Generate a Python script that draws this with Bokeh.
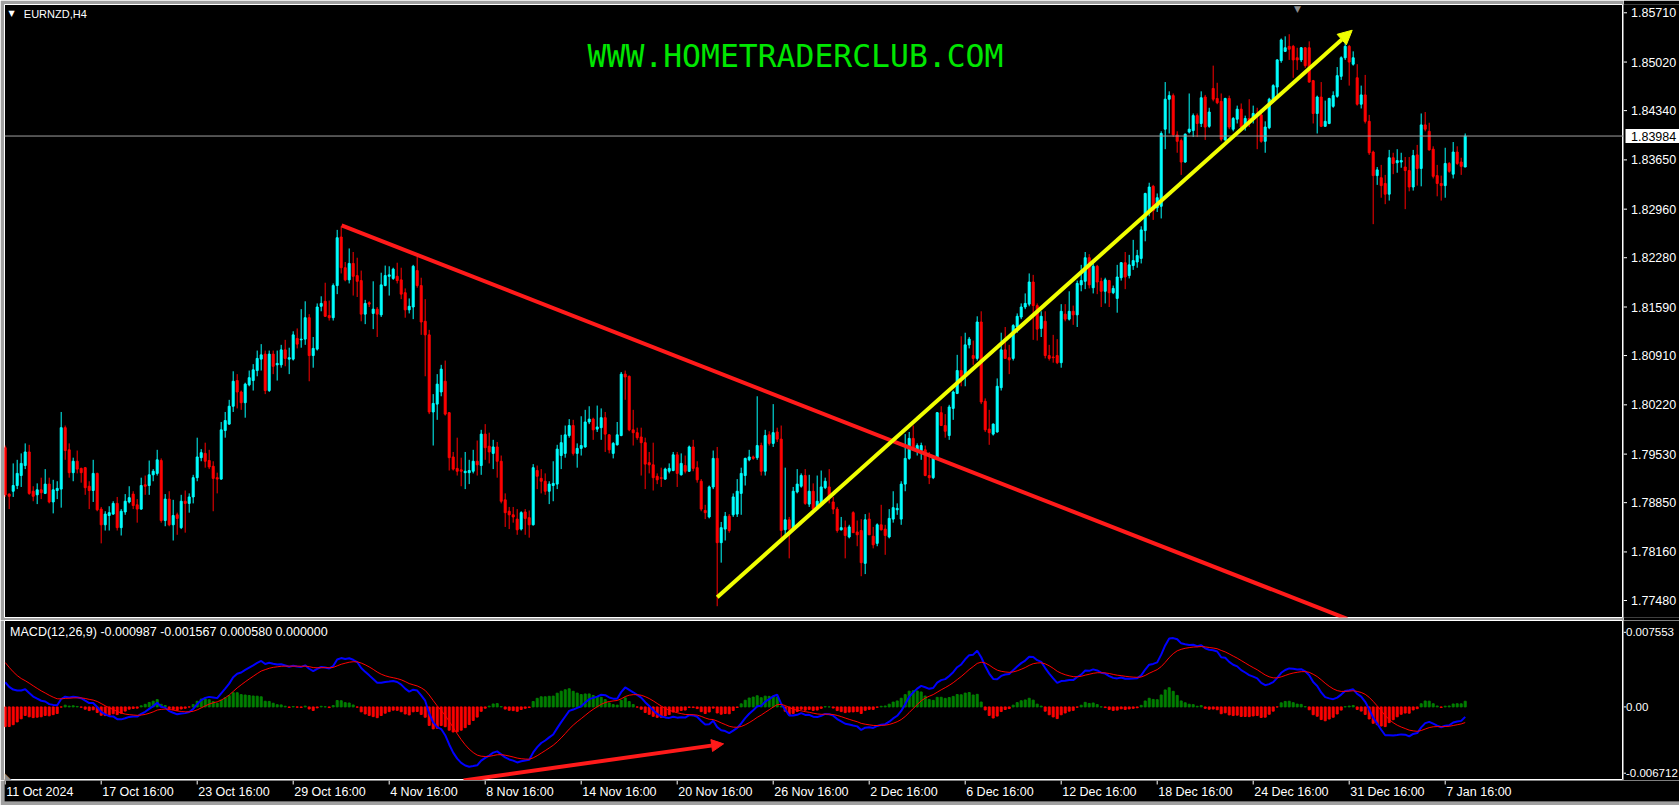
from bokeh.plotting import figure
from bokeh.layouts import column, row
from bokeh.models import Range1d, Label, Span, Arrow, NormalHead, ColumnDataSource
from bokeh.embed import file_html
from bokeh.resources import INLINE
from bokeh.core.properties import value

# ---------------- data (EURNZD H4, bar 0 = 11 Oct 2024 16:00) ----------------
opens = [
    1.7962, 1.7897, 1.7901, 1.7909, 1.7923, 1.7937, 1.7956, 1.7901, 1.7896, 1.7903,
    1.7898, 1.7911, 1.7886, 1.7902, 1.7904, 1.7990, 1.7959, 1.7927, 1.7943, 1.7933,
    1.7934, 1.7908, 1.7902, 1.7926, 1.7876, 1.7854, 1.7867, 1.7869, 1.7884, 1.7850,
    1.7872, 1.7886, 1.7897, 1.7882, 1.7876, 1.7910, 1.7909, 1.7924, 1.7926, 1.7944,
    1.7860, 1.7890, 1.7854, 1.7868, 1.7850, 1.7887, 1.7884, 1.7893, 1.7920, 1.7948,
    1.7954, 1.7944, 1.7936, 1.7920, 1.7918, 1.7986, 1.7995, 1.8020, 1.8056, 1.8040,
    1.8025, 1.8050, 1.8056, 1.8070, 1.8086, 1.8093, 1.8042, 1.8093, 1.8078, 1.8078,
    1.8099, 1.8086, 1.8086, 1.8115, 1.8113, 1.8114, 1.8144, 1.8091, 1.8100, 1.8160,
    1.8167, 1.8147, 1.8144, 1.8189, 1.8257, 1.8214, 1.8197, 1.8220, 1.8203, 1.8196,
    1.8149, 1.8165, 1.8150, 1.8156, 1.8148, 1.8189, 1.8202, 1.8199, 1.8202, 1.8197,
    1.8179, 1.8155, 1.8159, 1.8210, 1.8189, 1.8139, 1.8120, 1.8012, 1.8023, 1.8040,
    1.8055, 1.8011, 1.7949, 1.7933, 1.7931, 1.7927, 1.7927, 1.7929, 1.7943, 1.7937,
    1.7981, 1.7964, 1.7954, 1.7963, 1.7943, 1.7889, 1.7873, 1.7868, 1.7862, 1.7848,
    1.7872, 1.7864, 1.7854, 1.7930, 1.7919, 1.7915, 1.7901, 1.7909, 1.7911, 1.7951,
    1.7954, 1.7979, 1.7993, 1.7954, 1.7961, 1.7963, 1.7998, 1.8002, 1.7988, 1.7990,
    1.8004, 1.7980, 1.7954, 1.7966, 1.7979, 1.8065, 1.8062, 1.7987, 1.7983, 1.7977,
    1.7969, 1.7941, 1.7938, 1.7922, 1.7920, 1.7918, 1.7929, 1.7930, 1.7952, 1.7924,
    1.7937, 1.7929, 1.7963, 1.7934, 1.7915, 1.7874, 1.7865, 1.7907, 1.7947, 1.7829,
    1.7848, 1.7866, 1.7868, 1.7869, 1.7898, 1.7923, 1.7945, 1.7949, 1.7948, 1.7965,
    1.7929, 1.7980, 1.7968, 1.7984, 1.7974, 1.7847, 1.7861, 1.7848, 1.7900, 1.7908,
    1.7923, 1.7883, 1.7901, 1.7879, 1.7884, 1.7906, 1.7907, 1.7886, 1.7876, 1.7847,
    1.7850, 1.7837, 1.7871, 1.7844, 1.7846, 1.7800, 1.7862, 1.7838, 1.7828, 1.7854,
    1.7848, 1.7837, 1.7862, 1.7875, 1.7862, 1.7911, 1.7947, 1.7975, 1.7959, 1.7958,
    1.7959, 1.7923, 1.7920, 1.7948, 1.8011, 1.7993, 1.7979, 1.8017, 1.8038, 1.8070,
    1.8062, 1.8106, 1.8091, 1.8087, 1.8138, 1.8027, 1.7988, 1.7981, 1.7984, 1.8046,
    1.8099, 1.8088, 1.8087, 1.8131, 1.8145, 1.8159, 1.8163, 1.8194, 1.8161, 1.8129,
    1.8139, 1.8091, 1.8089, 1.8091, 1.8081, 1.8149, 1.8142, 1.8153, 1.8148, 1.8190,
    1.8195, 1.8228, 1.8186, 1.8216, 1.8195, 1.8181, 1.8196, 1.8179, 1.8171, 1.8200,
    1.8221, 1.8203, 1.8217, 1.8222, 1.8227, 1.8266, 1.8294, 1.8328, 1.8298, 1.8300,
    1.8408, 1.8450, 1.8455, 1.8400, 1.8392, 1.8362, 1.8404, 1.8406, 1.8427, 1.8416,
    1.8453, 1.8412, 1.8465, 1.8451, 1.8447, 1.8393, 1.8451, 1.8408, 1.8422, 1.8436,
    1.8411, 1.8423, 1.8422, 1.8430, 1.8428, 1.8391, 1.8410, 1.8447, 1.8467, 1.8504,
    1.8517, 1.8524, 1.8524, 1.8508, 1.8505, 1.8522, 1.8522, 1.8476, 1.8430, 1.8453,
    1.8412, 1.8416, 1.8440, 1.8454, 1.8482, 1.8508, 1.8524, 1.8499, 1.8480, 1.8443,
    1.8456, 1.8419, 1.8376, 1.8343, 1.8340, 1.8332, 1.8317, 1.8368, 1.8361, 1.8362,
    1.8355, 1.8350, 1.8327, 1.8372, 1.8353, 1.8414, 1.8405, 1.8380, 1.8343, 1.8332,
    1.8329, 1.8360, 1.8345, 1.8376, 1.8362, 1.8355,
]
highs = [
    1.7965, 1.7898, 1.7940, 1.7945, 1.7954, 1.7968, 1.7966, 1.7908, 1.7912, 1.7920,
    1.7932, 1.7920, 1.7917, 1.7915, 1.8012, 1.7993, 1.7968, 1.7948, 1.7958, 1.7934,
    1.7935, 1.7915, 1.7945, 1.7927, 1.7879, 1.7873, 1.7880, 1.7887, 1.7893, 1.7876,
    1.7897, 1.7908, 1.7901, 1.7890, 1.7920, 1.7923, 1.7944, 1.7932, 1.7959, 1.7947,
    1.7897, 1.7901, 1.7889, 1.7871, 1.7896, 1.7902, 1.7898, 1.7924, 1.7976, 1.7960,
    1.7969, 1.7959, 1.7943, 1.7927, 1.7998, 1.8012, 1.8029, 1.8069, 1.8065, 1.8042,
    1.8053, 1.8070, 1.8079, 1.8098, 1.8107, 1.8098, 1.8098, 1.8098, 1.8098, 1.8106,
    1.8113, 1.8102, 1.8125, 1.8129, 1.8156, 1.8167, 1.8149, 1.8117, 1.8164, 1.8174,
    1.8193, 1.8168, 1.8192, 1.8267, 1.8272, 1.8222, 1.8241, 1.8236, 1.8228, 1.8210,
    1.8169, 1.8167, 1.8195, 1.8159, 1.8207, 1.8217, 1.8216, 1.8214, 1.8221, 1.8214,
    1.8185, 1.8171, 1.8218, 1.8229, 1.8200, 1.8170, 1.8127, 1.8037, 1.8065, 1.8078,
    1.8084, 1.8012, 1.7956, 1.7976, 1.7948, 1.7956, 1.7945, 1.7959, 1.7972, 1.7987,
    1.7995, 1.7983, 1.7973, 1.7970, 1.7951, 1.7898, 1.7879, 1.7879, 1.7876, 1.7873,
    1.7876, 1.7874, 1.7939, 1.7937, 1.7932, 1.7926, 1.7915, 1.7943, 1.7966, 1.7980,
    1.7993, 1.8002, 1.8001, 1.7968, 1.8006, 1.8015, 1.8020, 1.8004, 1.8021, 1.8017,
    1.8012, 1.7981, 1.7970, 1.7998, 1.8068, 1.8070, 1.8063, 1.8015, 1.7990, 1.7990,
    1.7976, 1.7956, 1.7969, 1.7926, 1.7934, 1.7934, 1.7940, 1.7956, 1.7956, 1.7954,
    1.7951, 1.7965, 1.7973, 1.7943, 1.7918, 1.7882, 1.7909, 1.7958, 1.7963, 1.7858,
    1.7872, 1.7869, 1.7898, 1.7918, 1.7934, 1.7948, 1.7959, 1.7951, 1.8034, 1.7969,
    1.7987, 1.7985, 1.8023, 1.7990, 1.7993, 1.7934, 1.7865, 1.7907, 1.7932, 1.7926,
    1.7932, 1.7924, 1.7912, 1.7923, 1.7930, 1.7920, 1.7932, 1.7893, 1.7879, 1.7865,
    1.7860, 1.7854, 1.7873, 1.7860, 1.7862, 1.7869, 1.7871, 1.7851, 1.7856, 1.7882,
    1.7854, 1.7876, 1.7901, 1.7884, 1.7915, 1.7981, 1.7984, 1.7993, 1.7968, 1.7969,
    1.7965, 1.7956, 1.7951, 1.8012, 1.8020, 1.8009, 1.8022, 1.8042, 1.8092, 1.8118,
    1.8123, 1.8117, 1.8112, 1.8146, 1.8153, 1.8031, 1.8015, 1.7996, 1.8059, 1.8123,
    1.8131, 1.8106, 1.8135, 1.8150, 1.8164, 1.8178, 1.8206, 1.8204, 1.8164, 1.8153,
    1.8153, 1.8106, 1.8120, 1.8114, 1.8163, 1.8163, 1.8181, 1.8161, 1.8196, 1.8218,
    1.8236, 1.8233, 1.8220, 1.8218, 1.8200, 1.8200, 1.8197, 1.8189, 1.8218, 1.8222,
    1.8236, 1.8232, 1.8253, 1.8239, 1.8272, 1.8319, 1.8333, 1.8330, 1.8318, 1.8405,
    1.8474, 1.8461, 1.8458, 1.8405, 1.8395, 1.8402, 1.8458, 1.8430, 1.8430, 1.8461,
    1.8456, 1.8438, 1.8497, 1.8473, 1.8458, 1.8452, 1.8455, 1.8425, 1.8441, 1.8444,
    1.8427, 1.8450, 1.8441, 1.8438, 1.8436, 1.8419, 1.8452, 1.8471, 1.8506, 1.8535,
    1.8538, 1.8541, 1.8526, 1.8522, 1.8523, 1.8523, 1.8531, 1.8477, 1.8455, 1.8474,
    1.8448, 1.8452, 1.8461, 1.8495, 1.8510, 1.8539, 1.8526, 1.8517, 1.8499, 1.8469,
    1.8484, 1.8428, 1.8378, 1.8355, 1.8358, 1.8344, 1.8379, 1.8375, 1.8380, 1.8375,
    1.8369, 1.8369, 1.8379, 1.8386, 1.8430, 1.8432, 1.8417, 1.8384, 1.8358, 1.8343,
    1.8382, 1.8362, 1.8390, 1.8384, 1.8368, 1.8402,
]
lows = [
    1.7893, 1.7876, 1.7893, 1.7904, 1.7907, 1.7932, 1.7896, 1.7887, 1.7883, 1.7890,
    1.7897, 1.7884, 1.7870, 1.7890, 1.7878, 1.7945, 1.7920, 1.7915, 1.7926, 1.7913,
    1.7896, 1.7876, 1.7886, 1.7873, 1.7828, 1.7846, 1.7846, 1.7868, 1.7846, 1.7839,
    1.7868, 1.7884, 1.7876, 1.7857, 1.7875, 1.7896, 1.7896, 1.7915, 1.7923, 1.7857,
    1.7852, 1.7852, 1.7832, 1.7840, 1.7848, 1.7843, 1.7871, 1.7884, 1.7915, 1.7943,
    1.7934, 1.7932, 1.7873, 1.7898, 1.7917, 1.7976, 1.7994, 1.8012, 1.8017, 1.8015,
    1.8004, 1.8048, 1.8042, 1.8062, 1.8070, 1.8037, 1.8040, 1.8065, 1.8056, 1.8074,
    1.8076, 1.8065, 1.8084, 1.8101, 1.8102, 1.8106, 1.8055, 1.8074, 1.8098, 1.8153,
    1.8145, 1.8140, 1.8140, 1.8177, 1.8206, 1.8195, 1.8192, 1.8175, 1.8173, 1.8139,
    1.8135, 1.8159, 1.8128, 1.8117, 1.8145, 1.8188, 1.8175, 1.8197, 1.8192, 1.8170,
    1.8144, 1.8150, 1.8142, 1.8186, 1.8120, 1.8062, 1.8009, 1.7965, 1.8001, 1.8034,
    1.8007, 1.7930, 1.7930, 1.7923, 1.7908, 1.7904, 1.7911, 1.7926, 1.7923, 1.7924,
    1.7945, 1.7940, 1.7932, 1.7920, 1.7884, 1.7851, 1.7848, 1.7857, 1.7840, 1.7846,
    1.7840, 1.7836, 1.7853, 1.7904, 1.7898, 1.7896, 1.7883, 1.7887, 1.7904, 1.7932,
    1.7948, 1.7976, 1.7951, 1.7934, 1.7951, 1.7962, 1.7995, 1.7973, 1.7984, 1.7973,
    1.7956, 1.7954, 1.7947, 1.7965, 1.7978, 1.8029, 1.7985, 1.7965, 1.7973, 1.7923,
    1.7904, 1.7926, 1.7902, 1.7911, 1.7907, 1.7917, 1.7926, 1.7929, 1.7907, 1.7923,
    1.7926, 1.7928, 1.7929, 1.7913, 1.7873, 1.7862, 1.7863, 1.7904, 1.7740, 1.7801,
    1.7832, 1.7843, 1.7865, 1.7865, 1.7868, 1.7909, 1.7943, 1.7945, 1.7945, 1.7923,
    1.7923, 1.7965, 1.7963, 1.7970, 1.7835, 1.7840, 1.7807, 1.7846, 1.7898, 1.7906,
    1.7882, 1.7879, 1.7873, 1.7876, 1.7882, 1.7904, 1.7884, 1.7869, 1.7843, 1.7846,
    1.7807, 1.7835, 1.7843, 1.7824, 1.7782, 1.7785, 1.7840, 1.7821, 1.7824, 1.7846,
    1.7812, 1.7835, 1.7857, 1.7868, 1.7854, 1.7901, 1.7945, 1.7958, 1.7951, 1.7945,
    1.7922, 1.7911, 1.7918, 1.7947, 1.7993, 1.7976, 1.7973, 1.8001, 1.8037, 1.8048,
    1.8048, 1.8101, 1.8078, 1.8084, 1.8023, 1.7984, 1.7966, 1.7979, 1.7983, 1.8042,
    1.8087, 1.8065, 1.8084, 1.8123, 1.8142, 1.8156, 1.8160, 1.8113, 1.8112, 1.8117,
    1.8087, 1.8084, 1.8081, 1.8079, 1.8074, 1.8139, 1.8140, 1.8134, 1.8131, 1.8181,
    1.8184, 1.8185, 1.8178, 1.8177, 1.8159, 1.8164, 1.8159, 1.8177, 1.8151, 1.8196,
    1.8184, 1.8199, 1.8211, 1.8214, 1.8220, 1.8251, 1.8286, 1.8281, 1.8292, 1.8283,
    1.8380, 1.8402, 1.8397, 1.8375, 1.8344, 1.8361, 1.8402, 1.8397, 1.8397, 1.8411,
    1.8393, 1.8410, 1.8447, 1.8443, 1.8391, 1.8391, 1.8408, 1.8405, 1.8416, 1.8408,
    1.8406, 1.8411, 1.8416, 1.8380, 1.8389, 1.8375, 1.8408, 1.8445, 1.8455, 1.8501,
    1.8516, 1.8505, 1.8480, 1.8491, 1.8502, 1.8494, 1.8473, 1.8416, 1.8402, 1.8411,
    1.8412, 1.8415, 1.8438, 1.8452, 1.8477, 1.8505, 1.8469, 1.8497, 1.8441, 1.8437,
    1.8416, 1.8372, 1.8275, 1.8330, 1.8312, 1.8303, 1.8308, 1.8345, 1.8347, 1.8354,
    1.8296, 1.8321, 1.8322, 1.8329, 1.8328, 1.8405, 1.8378, 1.8339, 1.8314, 1.8308,
    1.8312, 1.8347, 1.8339, 1.8358, 1.8344, 1.8355,
]
closes = [
    1.7896, 1.7894, 1.7909, 1.7926, 1.7940, 1.7956, 1.7898, 1.7894, 1.7903, 1.7899,
    1.7911, 1.7886, 1.7903, 1.7905, 1.7990, 1.7958, 1.7927, 1.7943, 1.7932, 1.7927,
    1.7906, 1.7902, 1.7926, 1.7875, 1.7854, 1.7869, 1.7871, 1.7884, 1.7850, 1.7873,
    1.7887, 1.7892, 1.7881, 1.7876, 1.7909, 1.7908, 1.7924, 1.7929, 1.7945, 1.7860,
    1.7890, 1.7854, 1.7867, 1.7863, 1.7887, 1.7884, 1.7893, 1.7920, 1.7949, 1.7955,
    1.7943, 1.7935, 1.7919, 1.7918, 1.7987, 1.8000, 1.8020, 1.8055, 1.8040, 1.8025,
    1.8051, 1.8060, 1.8071, 1.8087, 1.8092, 1.8042, 1.8093, 1.8076, 1.8080, 1.8099,
    1.8087, 1.8088, 1.8120, 1.8107, 1.8114, 1.8144, 1.8091, 1.8101, 1.8159, 1.8164,
    1.8146, 1.8144, 1.8189, 1.8256, 1.8214, 1.8197, 1.8220, 1.8202, 1.8195, 1.8149,
    1.8164, 1.8163, 1.8156, 1.8149, 1.8190, 1.8203, 1.8204, 1.8212, 1.8196, 1.8177,
    1.8155, 1.8160, 1.8216, 1.8189, 1.8138, 1.8120, 1.8012, 1.8024, 1.8051, 1.8072,
    1.8009, 1.7948, 1.7932, 1.7929, 1.7929, 1.7929, 1.7930, 1.7943, 1.7938, 1.7981,
    1.7962, 1.7956, 1.7963, 1.7943, 1.7887, 1.7871, 1.7868, 1.7865, 1.7847, 1.7871,
    1.7863, 1.7854, 1.7934, 1.7922, 1.7915, 1.7901, 1.7911, 1.7912, 1.7960, 1.7969,
    1.7980, 1.7993, 1.7954, 1.7961, 1.7965, 1.7998, 1.8002, 1.7987, 1.7991, 1.8004,
    1.7981, 1.7959, 1.7968, 1.7980, 1.8065, 1.8061, 1.7987, 1.7983, 1.7976, 1.7969,
    1.7939, 1.7938, 1.7920, 1.7917, 1.7919, 1.7932, 1.7933, 1.7952, 1.7926, 1.7940,
    1.7929, 1.7963, 1.7933, 1.7917, 1.7876, 1.7871, 1.7907, 1.7947, 1.7829, 1.7850,
    1.7866, 1.7846, 1.7893, 1.7901, 1.7926, 1.7947, 1.7949, 1.7947, 1.7965, 1.7929,
    1.7979, 1.7968, 1.7983, 1.7974, 1.7846, 1.7861, 1.7848, 1.7901, 1.7911, 1.7923,
    1.7884, 1.7901, 1.7876, 1.7887, 1.7907, 1.7915, 1.7893, 1.7876, 1.7846, 1.7850,
    1.7839, 1.7851, 1.7843, 1.7840, 1.7801, 1.7861, 1.7840, 1.7826, 1.7854, 1.7847,
    1.7839, 1.7863, 1.7878, 1.7877, 1.7911, 1.7947, 1.7975, 1.7959, 1.7965, 1.7965,
    1.7923, 1.7920, 1.7948, 1.8011, 1.7993, 1.7985, 1.8019, 1.8040, 1.8070, 1.8062,
    1.8106, 1.8114, 1.8087, 1.8138, 1.8026, 1.7987, 1.7983, 1.7995, 1.8048, 1.8099,
    1.8087, 1.8085, 1.8133, 1.8146, 1.8159, 1.8164, 1.8194, 1.8161, 1.8128, 1.8146,
    1.8091, 1.8087, 1.8088, 1.8081, 1.8153, 1.8142, 1.8153, 1.8148, 1.8192, 1.8196,
    1.8228, 1.8190, 1.8216, 1.8194, 1.8181, 1.8197, 1.8179, 1.8185, 1.8201, 1.8221,
    1.8201, 1.8218, 1.8224, 1.8231, 1.8267, 1.8318, 1.8327, 1.8294, 1.8312, 1.8402,
    1.8450, 1.8455, 1.8400, 1.8391, 1.8362, 1.8401, 1.8408, 1.8427, 1.8416, 1.8452,
    1.8411, 1.8432, 1.8450, 1.8445, 1.8394, 1.8451, 1.8411, 1.8423, 1.8436, 1.8411,
    1.8423, 1.8419, 1.8430, 1.8427, 1.8391, 1.8411, 1.8450, 1.8469, 1.8505, 1.8533,
    1.8522, 1.8520, 1.8505, 1.8505, 1.8522, 1.8497, 1.8474, 1.8430, 1.8453, 1.8412,
    1.8419, 1.8451, 1.8455, 1.8483, 1.8508, 1.8524, 1.8502, 1.8508, 1.8443, 1.8456,
    1.8419, 1.8375, 1.8343, 1.8351, 1.8329, 1.8317, 1.8368, 1.8360, 1.8364, 1.8364,
    1.8350, 1.8327, 1.8371, 1.8353, 1.8414, 1.8408, 1.8379, 1.8342, 1.8332, 1.8329,
    1.8360, 1.8349, 1.8376, 1.8360, 1.8356, 1.83984,
]

time_ticks = [0, 24, 48, 72, 96, 120, 144, 168, 192, 216, 240, 264, 288, 312, 336, 360]
time_labels = ["11 Oct 2024", "17 Oct 16:00", "23 Oct 16:00", "29 Oct 16:00", "4 Nov 16:00",
               "8 Nov 16:00", "14 Nov 16:00", "20 Nov 16:00", "26 Nov 16:00", "2 Dec 16:00",
               "6 Dec 16:00", "12 Dec 16:00", "18 Dec 16:00", "24 Dec 16:00", "31 Dec 16:00",
               "7 Jan 16:00"]
price_ticks = [1.85710, 1.85020, 1.84340, 1.83650, 1.82960, 1.82280, 1.81590,
               1.80910, 1.80220, 1.79530, 1.78850, 1.78160, 1.77480]
macd_ticks = [0.007553, 0.0, -0.006712]

symbol_title = "EURNZD,H4"
macd_header = "MACD(12,26,9) -0.000987 -0.001567 0.000580 0.000000"
watermark = "WWW.HOMETRADERCLUB.COM"

# drawn objects (bar index, price / MACD value)
red_trend_x = [84.1, 335.5]
red_trend_y = [1.82734, 1.77222]
yellow_arrow_x = [178.0, 336.75]
yellow_arrow_y = [1.77525, 1.85466]
macd_arrow_x = [114.6, 179.6]
macd_arrow_y = [-0.00745, -0.00374]

# MACD(12,26,9) state at the first visible bar
ema_fast_seed, ema_slow_seed, signal_seed = 1.7930, 1.7905, 0.0045

# ---------------- indicator ----------------
def ema(series, period, seed):
    k = 2.0 / (period + 1)
    out = [seed]
    for v in series[1:]:
        out.append(out[-1] + k * (v - out[-1]))
    return out

e12 = ema(closes, 12, ema_fast_seed)
e26 = ema(closes, 26, ema_slow_seed)
macd = [a - b for a, b in zip(e12, e26)]
signal = ema(macd, 9, signal_seed)
hist = [m - s for m, s in zip(macd, signal)]

# ---------------- layout constants ----------------
FW = 1619           # chart frame width, 4 px per bar
RBW = 56            # price-scale column
LB = 4              # window border
H_MAIN = 613
H_MACD = 160
H_TIME = 21
GRAY = "#a0a0a0"
FONT = "Liberation Sans"
FS = "12.5px"

idx = list(range(len(closes)))
x_range = Range1d(-0.175, -0.175 + FW / 4.0)
price_range = Range1d(1.77242, 1.85826)
macd_range = Range1d(-0.00745, 0.00875)


def chart_panel(height, y_range, top, bottom):
    p = figure(frame_width=FW, frame_height=height, x_range=x_range, y_range=y_range,
               output_backend="svg", toolbar_location=None,
               x_axis_location=None, y_axis_location=None,
               min_border_left=LB, min_border_right=0,
               min_border_top=top, min_border_bottom=bottom,
               background_fill_color="black", border_fill_color=GRAY,
               outline_line_color="white")
    p.grid.visible = False
    return p


def scale_panel(height, y_range, top, bottom):
    a = figure(frame_width=RBW, frame_height=height, x_range=Range1d(0, RBW), y_range=y_range,
               output_backend="svg", toolbar_location=None,
               x_axis_location=None, y_axis_location=None,
               min_border_left=0, min_border_right=0,
               min_border_top=top, min_border_bottom=bottom,
               background_fill_color="black", border_fill_color="black",
               outline_line_color=None)
    a.grid.visible = False
    return a


# ---------------- main price panel ----------------
p1 = chart_panel(H_MAIN, price_range, LB, 3)

colors = ["#00ffff" if c >= o else "#ff0000" for o, c in zip(opens, closes)]
src = ColumnDataSource(dict(x=idx, o=opens, h=highs, l=lows, c=closes, col=colors))
p1.segment(x0="x", y0="l", x1="x", y1="h", line_color="col", line_width=1, source=src)
p1.vbar(x="x", width=0.5, top="o", bottom="c", fill_color="col", line_color="col",
        line_width=1, source=src)

p1.add_layout(Span(location=closes[-1], dimension="width", line_color="#a0a0a0", line_width=1))

p1.line(red_trend_x, red_trend_y, line_color="#ff1a1a", line_width=4)
p1.add_layout(Arrow(x_start=yellow_arrow_x[0], y_start=yellow_arrow_y[0],
                    x_end=yellow_arrow_x[1], y_end=yellow_arrow_y[1],
                    line_color="#f0ff00", line_width=4,
                    end=NormalHead(size=14, fill_color="#f0ff00", line_color="#f0ff00")))

p1.add_layout(Label(x=4, y=H_MAIN - 8.5, x_units="screen", y_units="screen", text="\u25BC",
                    text_color="white", text_font="DejaVu Sans", text_font_size="8px",
                    text_baseline="middle"))
p1.add_layout(Label(x=19.3, y=H_MAIN - 9.3, x_units="screen", y_units="screen",
                    text=symbol_title, text_color="white", text_font=FONT,
                    text_font_size="11px", text_baseline="middle"))
p1.add_layout(Label(x=791, y=H_MAIN - 51.8, x_units="screen", y_units="screen", text=watermark,
                    text_color="#00e600", text_font="DejaVu Sans Mono", text_font_size="31.4px",
                    text_align="center", text_baseline="middle"))
p1.add_layout(Label(x=1293, y=H_MAIN + 1, x_units="screen", y_units="screen", text="\u25BC",
                    text_color="#8c8c8c", text_font="DejaVu Sans", text_font_size="9px",
                    text_align="center", text_baseline="top"))

# price scale column
a1 = scale_panel(H_MAIN, price_range, LB, 3)
a1.segment(x0=[0] * len(price_ticks), y0=price_ticks, x1=[3.5] * len(price_ticks),
           y1=price_ticks, line_color="white", line_width=1)
a1.text(x=[7.5] * len(price_ticks), y=price_ticks, text=["%.5f" % t for t in price_ticks],
        text_color="white", text_font=value(FONT), text_font_size=value(FS),
        text_baseline="middle", text_align="left")
a1.rect(x=[(2 + RBW) / 2.0], y=[closes[-1]], width=[RBW - 2], height=14, height_units="screen",
        fill_color="white", line_color=None)
a1.text(x=[7.5], y=[closes[-1]], text=["%.5f" % closes[-1]], text_color="black",
        text_font=value(FONT), text_font_size=value(FS), text_baseline="middle",
        text_align="left")

# ---------------- MACD panel ----------------
p2 = chart_panel(H_MACD, macd_range, 0, 0)
hcol = ["#008000" if v >= 0 else "#ff0000" for v in hist]
hsrc = ColumnDataSource(dict(x=idx, top=hist, col=hcol))
p2.vbar(x="x", width=0.5, top="top", bottom=0, fill_color="col", line_color="col",
        line_width=1, source=hsrc)
p2.line(idx, macd, line_color="#0000ff", line_width=2)
p2.line(idx, signal, line_color="#ff0000", line_width=1)

p2.add_layout(Arrow(x_start=macd_arrow_x[0], y_start=macd_arrow_y[0],
                    x_end=macd_arrow_x[1], y_end=macd_arrow_y[1],
                    line_color="#ff1a1a", line_width=4,
                    end=NormalHead(size=12, fill_color="#ff1a1a", line_color="#ff1a1a")))
p2.add_layout(Label(x=5.6, y=H_MACD - 11.8, x_units="screen", y_units="screen",
                    text=macd_header, text_color="white", text_font=FONT,
                    text_font_size=FS, text_baseline="middle"))
p2.add_layout(Label(x=0, y=0, x_units="screen", y_units="screen", text="\u25E3",
                    text_color="#8c8c8c", text_font="DejaVu Sans", text_font_size="9px",
                    text_baseline="bottom"))

a2 = scale_panel(H_MACD, macd_range, 0, 0)
a2.segment(x0=[0] * len(macd_ticks), y0=macd_ticks, x1=[2.5] * len(macd_ticks), y1=macd_ticks,
           line_color="white", line_width=1)
a2.text(x=[2.5] * len(macd_ticks), y=macd_ticks,
        text=["0.00" if t == 0 else "%.6f" % t for t in macd_ticks],
        text_color="white", text_font=value(FONT), text_font_size=value("11.5px"),
        text_baseline="middle", text_align="left")

# ---------------- time scale ----------------
p3 = figure(frame_width=FW + RBW, frame_height=H_TIME,
            x_range=Range1d(-0.175, -0.175 + (FW + RBW) / 4.0), y_range=Range1d(0, 1),
            output_backend="svg", toolbar_location=None,
            x_axis_location=None, y_axis_location=None,
            min_border_left=LB, min_border_right=0, min_border_top=0, min_border_bottom=4,
            background_fill_color="black", border_fill_color=GRAY,
            outline_line_color=None)
p3.grid.visible = False
p3.segment(x0=time_ticks, y0=[1.0] * len(time_ticks), x1=time_ticks,
           y1=[0.81] * len(time_ticks), line_color="white", line_width=1)
p3.text(x=time_ticks, y=[0.47] * len(time_ticks), text=time_labels, text_color="white",
        text_font=value(FONT), text_font_size=value(FS), text_baseline="middle",
        text_align="left", x_offset=1)

layout = column(row(p1, a1, spacing=0), row(p2, a2, spacing=0), p3, spacing=0)
open("out.html", "w").write(file_html(layout, INLINE))
